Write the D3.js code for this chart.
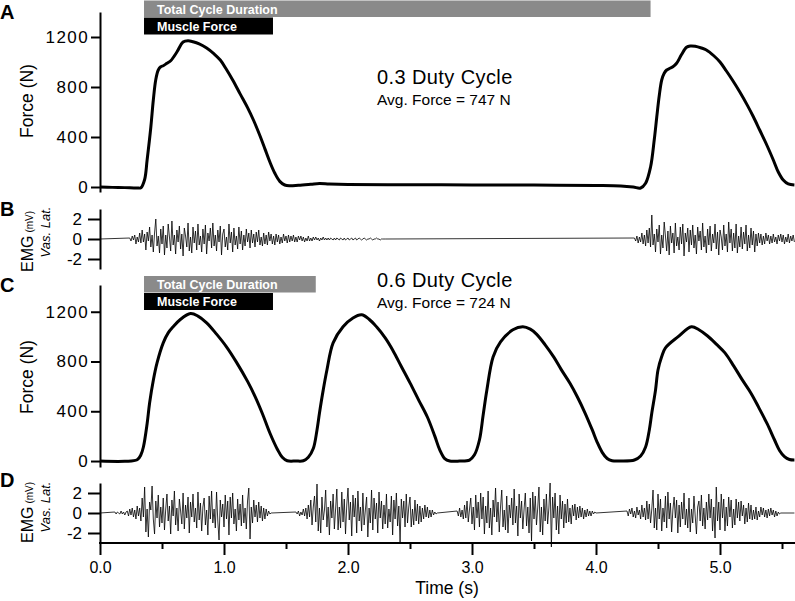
<!DOCTYPE html>
<html><head><meta charset="utf-8">
<script src="https://cdn.jsdelivr.net/npm/d3@7"></script>
<style>
body{margin:0;background:#fff}
text{font-family:"Liberation Sans",Arial,Helvetica,sans-serif;fill:#000}
</style>
</head><body>
<svg id="chart" width="795" height="601"></svg>
<script>
// ---------- data ----------
const xTicks = [0, 1, 2, 3, 4, 5];
const xMinorTicks = [0.5, 1.5, 2.5, 3.5, 4.5, 5.5];
const forceTicks = [0, 400, 800, 1200];
const emgTicks = [-2, 0, 2];

// bars (s)
const muscleForceBar = [0.355, 1.395];
const cycleBarA = [0.355, 4.44];
const cycleBarC = [0.355, 1.74];

const titleA = "0.3 Duty Cycle", avgA = "Avg. Force = 747 N";
const titleC = "0.6 Duty Cycle", avgC = "Avg. Force = 724 N";

// Force, 0.3 duty cycle
const forceATime = [0,0.1,0.2,0.3,0.33,0.36,0.38,0.41,0.43,0.45,0.47,0.49,0.51,0.54,0.57,0.62,0.67,0.71,0.75,0.8,0.86,0.92,0.97,1.02,1.07,1.13,1.19,1.24,1.29,1.33,1.37,1.41,1.45,1.49,1.53,1.6,1.7,1.77,1.85,2.0,2.5,3.0,3.5,4.0,4.2,4.3,4.36,4.4,4.44,4.47,4.49,4.51,4.53,4.55,4.57,4.6,4.62,4.65,4.69,4.73,4.76,4.8,4.85,4.89,4.95,5.0,5.05,5.1,5.16,5.22,5.27,5.32,5.38,5.43,5.47,5.51,5.55,5.6];
const forceA = [0,-3,-5,-8,-6,60,216,480,696,860,936,962,970,990,1010,1080,1160,1170,1162,1145,1112,1065,1016,940,856,745,635,530,410,305,200,110,45,16,10,14,22,28,24,20,18,17,16,12,8,0,-8,30,160,380,560,730,856,910,936,952,962,990,1060,1118,1128,1126,1112,1096,1050,1000,930,856,760,655,560,456,330,216,120,56,25,16];

// Force, 0.6 duty cycle
const forceCTime = [0,0.2,0.3,0.33,0.35,0.38,0.4,0.43,0.46,0.51,0.55,0.59,0.65,0.73,0.79,0.86,0.94,1.02,1.1,1.19,1.25,1.31,1.37,1.43,1.47,1.51,1.58,1.64,1.68,1.72,1.75,1.77,1.8,1.83,1.88,1.96,2.04,2.11,2.17,2.23,2.3,2.36,2.43,2.5,2.57,2.64,2.7,2.74,2.78,2.82,2.9,2.98,3.02,3.06,3.09,3.12,3.17,3.23,3.33,3.41,3.47,3.52,3.59,3.66,3.72,3.79,3.85,3.91,3.97,4.01,4.05,4.09,4.13,4.2,4.31,4.36,4.4,4.43,4.45,4.48,4.5,4.53,4.56,4.66,4.77,4.83,4.9,4.97,5.04,5.11,5.18,5.25,5.31,5.38,5.44,5.48,5.52,5.56,5.6];
const forceC = [0,-2,10,50,113,300,467,650,789,950,1030,1079,1140,1185,1165,1111,1020,918,795,640,520,380,225,95,30,2,0,2,30,100,250,386,570,732,950,1079,1150,1175,1140,1079,990,893,760,628,490,354,200,89,20,0,0,8,50,169,370,571,837,958,1055,1079,1060,1020,934,835,735,625,515,390,250,150,70,20,2,0,8,40,113,250,386,570,732,840,910,998,1079,1055,1005,940,869,765,652,545,435,300,169,85,35,12,8];

// EMG (mV), sampled every 0.01 s from each burst start
const emgStep = 0.01;
const emgBStarts = [0.24, 4.31];
const emgB1 = [0.1,-0.2,0.3,-0.1,0.4,-0.5,0.2,-0.3,0.6,-0.4,
 0.9,-0.3,0.5,-1.1,0.7,-0.2,1.2,-0.8,0.4,-1.3,
 0.6,2.0,-0.7,0.3,-1.4,1.0,-0.5,1.3,-1.6,0.4,
 -0.9,1.5,0.2,-1.2,1.8,-0.6,0.4,-1.5,0.9,-0.3,
 1.3,-1.0,0.5,-1.7,1.1,0.3,-0.8,1.6,-1.2,0.2,
 -1.4,1.2,-0.4,0.8,-1.1,1.5,-0.6,0.3,-1.3,1.0,
 -0.5,1.4,-1.5,0.6,-0.2,1.1,-0.9,1.6,-0.7,0.4,
 -1.2,0.9,-0.3,1.3,-1.6,0.5,1.0,-0.8,0.2,-1.1,
 1.5,-0.4,0.7,-1.3,1.1,-0.6,0.3,-1.0,1.2,-0.5,
 0.8,-1.1,0.4,-0.7,1.0,-0.3,0.6,-0.9,0.9,-0.4,
 0.5,-0.8,0.7,-0.3,0.9,-0.6,0.2,-0.7,0.6,-0.5,
 0.4,-0.6,0.7,-0.2,0.5,-0.5,0.3,-0.6,0.5,-0.3,
 0.4,-0.5,0.2,-0.4,0.5,-0.2,0.3,-0.4,0.4,-0.3,
 0.3,-0.2,0.4,-0.3,0.2,-0.3,0.3,-0.1,0.3,-0.2,
 0.2,-0.3,0.1,-0.2,0.3,-0.2,0.1,-0.2,0.2,-0.1,
 0.2,-0.1,0.1,-0.2,0.1,-0.1,0.2,-0.1,0.1,-0.1,
 0.1,-0.1,0.1,0,-0.1,0.1,-0.1,0.1,0,-0.1,
 0.1,0,-0.1,0.1,-0.1,0,0.1,-0.1,0,0.1,
 -0.1,0,0.1,-0.1,0,0.1,0,-0.1,0,0.1,
 0,-0.1,0,0,0.1,0,-0.1,0,0,0.1,
 0,0,-0.1,0,0,0,0];
const emgB2 = [0.1,-0.2,0.3,-0.4,0.2,-0.3,0.6,-0.5,0.4,-0.7,
 0.9,-0.4,1.1,-0.8,2.4,-0.6,0.5,-1.3,1.0,-0.3,
 1.4,-1.5,0.4,-0.9,1.7,0.3,-1.2,0.8,-1.6,1.3,
 -0.4,0.6,-1.4,1.6,-0.7,0.2,-1.1,1.2,-0.5,1.5,
 -1.7,0.6,-0.3,1.1,-1.3,0.9,-0.6,1.4,-0.9,0.4,
 -1.5,1.2,-0.2,0.8,-1.1,1.6,-0.8,0.3,-1.4,1.0,
 -0.6,1.3,-1.2,0.5,-0.4,1.5,-1.0,0.7,-1.6,0.9,
 0.2,-1.1,1.4,-0.7,0.5,-1.3,1.7,-0.4,1.0,-1.2,
 0.6,-0.9,1.5,-1.4,0.3,-0.8,1.2,-1.0,0.7,-0.5,
 1.4,-1.2,0.4,-0.9,1.1,-0.6,0.8,-1.3,0.5,-0.7,
 0.6,-0.4,0.5,-0.6,0.3,-0.5,0.6,-0.2,0.4,-0.5,
 0.3,-0.4,0.5,-0.3,0.2,-0.5,0.4,-0.2,0.5,-0.3,
 0.4,-0.5,0.2,-0.3,0.5,-0.4,0.3,-0.2,0.4,-0.3];

const emgDStarts = [0.12, 1.58, 2.88, 4.25];
const emgD1 = [0.1,-0.1,0.1,0,-0.1,0.2,-0.1,0.1,-0.2,0.1,
 0.2,-0.3,0.4,-0.2,0.5,-0.4,0.3,-0.6,0.7,-0.3,
 0.5,-0.8,1.5,-0.4,2.6,-1.9,0.4,-2.4,1.1,0.3,
 2.7,-0.6,-2.1,1.2,-0.5,1.8,-1.4,0.6,-1.0,1.5,
 -1.7,0.4,1.9,-0.8,0.7,-2.1,1.3,-0.3,2.2,-1.2,
 0.5,-1.8,1.4,0.2,-1.1,2.0,-1.6,0.8,-0.5,1.6,
 -2.0,1.1,-0.4,1.9,-0.9,0.5,-1.5,2.1,-0.7,1.0,
 -1.8,0.6,1.5,-1.2,0.3,-2.2,1.7,-0.6,2.2,-1.0,
 0.4,-1.5,2.1,-0.8,-2.7,1.3,-0.4,0.9,-1.4,1.8,
 -0.6,1.2,-2.2,1.6,-0.5,2.0,-1.1,0.4,-1.8,1.4,
 -0.7,0.9,-1.3,1.8,-1.0,0.5,-1.6,1.2,2.5,-2.6,
 0.6,-1.0,1.3,-0.4,0.8,-0.9,1.1,-0.5,0.7,-0.8,
 0.5,-0.6,0.4,-0.3,0.2,-0.1,0];
const emgD2 = [0.1,-0.1,0.2,-0.3,0.1,-0.2,0.4,-0.3,0.5,-0.6,
 0.8,-0.4,1.3,-1.2,0.6,1.7,-0.9,2.9,-1.8,0.5,
 -2.0,1.6,-0.7,0.3,2.3,-1.4,0.6,-2.2,1.2,-0.5,
 1.9,-1.6,0.4,2.4,-1.7,0.6,-1.5,2.1,-0.9,1.4,
 -2.1,0.8,2.5,-0.7,1.1,-2.3,1.8,-0.4,1.5,-2.0,
 2.2,-0.8,0.6,-1.8,2.0,-1.2,0.3,1.6,-2.4,0.5,
 -1.0,2.3,-1.7,1.5,-0.6,1.0,-2.0,2.1,-0.5,1.2,
 -1.6,0.8,-1.1,1.9,-1.5,0.4,-0.9,1.7,-2.2,1.3,
 -0.6,2.0,-1.3,0.7,-2.9,1.4,-0.5,1.2,-1.4,1.9,
 -1.0,0.6,1.6,-1.4,0.4,-1.2,1.3,-0.8,0.9,-1.1,
 0.7,-0.9,0.5,-0.6,0.8,-0.4,0.6,-0.5,0.3,-0.4,
 0.3,-0.2,0.1,-0.1,0];
const emgD3 = [0.2,-0.3,0.5,-0.4,0.3,-0.6,0.8,-0.5,1.2,-0.9,
 0.4,1.5,-1.1,0.6,-1.7,1.8,-0.5,1.1,-1.4,2.0,
 -0.6,1.6,-2.1,0.7,-1.0,2.2,-1.5,0.5,-2.2,1.3,
 -0.4,2.5,-0.9,1.1,-1.9,0.6,2.3,-1.4,0.3,-1.7,
 1.7,-2.0,0.8,-0.5,1.5,-1.2,2.4,-1.0,0.7,-2.3,
 1.9,-0.5,1.2,-1.6,0.4,2.0,-1.3,0.6,-2.0,1.5,
 -2.8,2.1,-0.6,1.7,-1.2,0.5,2.6,-1.9,0.6,-2.2,
 1.4,-0.8,1.9,-1.1,0.5,3.0,-3.4,1.6,-0.5,2.0,
 -1.7,0.7,-2.1,1.8,-0.6,1.2,-1.5,0.9,-1.0,1.4,
 -0.9,0.5,-1.1,0.8,-0.3,0.9,-0.7,0.6,-0.5,0.7,
 -0.4,0.5,-0.6,0.3,-0.4,0.4,-0.3,0.2,-0.3,0.2,
 -0.1,0.1,0];
const emgD4 = [0.2,-0.3,0.4,-0.1,0.5,-0.4,0.2,-0.5,0.6,-0.2,
 0.3,-0.6,0.8,-0.4,0.5,-0.7,1.2,-0.6,0.9,-1.0,
 0.4,2.3,-1.5,0.5,-1.7,1.9,-0.6,1.4,-1.8,0.5,
 -0.9,1.7,-1.5,2.1,-0.6,1.0,-1.9,0.3,1.6,-0.5,
 1.3,-2.0,0.8,-1.4,1.1,-0.6,2.0,-1.2,0.4,-1.5,
 1.5,-1.9,0.4,-1.0,1.7,-0.3,-2.1,0.6,1.2,-0.8,
 1.8,-1.3,0.5,-1.6,1.1,-0.7,1.9,-0.5,1.4,-1.8,
 0.6,-2.5,2.6,-0.8,1.1,-1.7,1.9,-0.5,1.4,-1.8,
 0.6,-1.3,1.6,-0.4,1.3,-1.5,0.4,-1.2,1.4,-0.5,
 1.1,-0.8,1.2,-0.3,0.8,-1.1,0.5,-0.9,1.0,-0.6,
 0.8,-0.7,0.3,-0.6,0.6,-0.7,0.2,-0.4,0.6,-0.2,
 0.5,-0.4,0.3,-0.5,0.4,-0.3,0.5,-0.2,0.3,-0.4,
 0.2,-0.3,0.1,-0.1,0];

// ---------- drawing ----------
const svg = d3.select("#chart");
const tMax = 5.6;
const x = d3.scaleLinear().domain([0, tMax]).range([100, 794.4]);

const yA = d3.scaleLinear().domain([-40, 1400]).range([192, 12]);
const yB = d3.scaleLinear().domain([-3, 3]).range([269, 209]);
const yC = d3.scaleLinear().domain([-48, 1415]).range([467, 285]);
const yD = d3.scaleLinear().domain([-3, 3]).range([543, 483]);

function styleAxis(g, sw) {
  g.selectAll("path.domain").attr("stroke", "#000").attr("stroke-width", sw);
  g.selectAll(".tick line").attr("stroke", "#000").attr("stroke-width", sw);
  g.selectAll(".tick text").attr("fill", "#000");
}

function forceAxis(y) {
  const g = svg.append("g").attr("transform", "translate(100,0)")
    .call(d3.axisLeft(y).tickValues(forceTicks).tickSize(9).tickPadding(2).tickSizeOuter(0).tickFormat(d3.format("d")));
  styleAxis(g, 2);
  g.selectAll(".tick text").attr("font-size", 17).attr("letter-spacing", "1.4px")
    .attr("font-family", '"Liberation Sans",Arial,sans-serif');
}
function emgAxis(y) {
  const g = svg.append("g").attr("transform", "translate(100,0)")
    .call(d3.axisLeft(y).tickValues(emgTicks).tickSize(12).tickPadding(6).tickSizeOuter(0).tickFormat(d3.format("d")));
  styleAxis(g, 2);
  g.selectAll(".tick text").attr("font-size", 17)
    .attr("font-family", '"Liberation Sans",Arial,sans-serif')
    .text(d => d < 0 ? "-" + Math.abs(d) : d);
}

forceAxis(yA); emgAxis(yB); forceAxis(yC); emgAxis(yD);

// x axis (bottom of D)
const gx = svg.append("g").attr("transform", "translate(0,543)")
  .call(d3.axisBottom(x).tickValues(xTicks).tickSize(12).tickPadding(7).tickSizeOuter(0).tickFormat(d3.format(".1f")));
styleAxis(gx, 2);
gx.select("path.domain").attr("d", `M${x(0)-1},0H795`);
gx.selectAll(".tick text").attr("font-size", 16).attr("font-family", '"Liberation Sans",Arial,sans-serif');
const gxm = svg.append("g").attr("transform", "translate(0,543)")
  .call(d3.axisBottom(x).tickValues(xMinorTicks).tickSize(6).tickFormat(""));
gxm.select("path.domain").remove();
styleAxis(gxm, 2);

svg.append("text").attr("x", 447).attr("y", 594).attr("text-anchor", "middle")
  .attr("font-size", 17.5).text("Time (s)");

// force lines
function forceLine(times, vals, y) {
  const pts = times.map((t, i) => [t, vals[i]]);
  svg.append("path").datum(pts)
    .attr("fill", "none").attr("stroke", "#000").attr("stroke-width", 3)
    .attr("stroke-linejoin", "round")
    .attr("d", d3.line().x(d => x(d[0])).y(d => y(d[1])).curve(d3.curveCatmullRom.alpha(0.5)));
}
forceLine(forceATime, forceA, yA);
forceLine(forceCTime, forceC, yC);

// EMG lines
function emgLine(starts, bursts, y) {
  let pts = [[0, 0]];
  bursts.forEach((b, k) => {
    b.forEach((v, i) => pts.push([starts[k] + i * emgStep, v]));
  });
  const last = pts[pts.length - 1][0];
  if (last < tMax - 1e-6) pts.push([tMax, 0]);
  svg.append("path").datum(pts)
    .attr("fill", "none").attr("stroke", "#000").attr("stroke-width", 0.8)
    .attr("d", d3.line().x(d => x(d[0])).y(d => y(d[1])));
}
emgLine(emgBStarts, [emgB1, emgB2], yB);
emgLine(emgDStarts, [emgD1, emgD2, emgD3, emgD4], yD);

// bars
function bars(cycle, yTop) {
  svg.append("rect").attr("x", x(cycle[0])).attr("y", yTop)
    .attr("width", x(cycle[1]) - x(cycle[0])).attr("height", 16.5).attr("fill", "#8a8a8a");
  svg.append("rect").attr("x", x(muscleForceBar[0])).attr("y", yTop + 17)
    .attr("width", x(muscleForceBar[1]) - x(muscleForceBar[0])).attr("height", 17).attr("fill", "#000");
  svg.append("text").attr("x", x(cycle[0]) + 13).attr("y", yTop + 13)
    .attr("font-size", 12.5).attr("font-weight", "bold").style("fill", "#fff").text("Total Cycle Duration");
  svg.append("text").attr("x", x(muscleForceBar[0]) + 13).attr("y", yTop + 30)
    .attr("font-size", 12.5).attr("font-weight", "bold").style("fill", "#fff").text("Muscle Force");
}
bars(cycleBarA, 0.5);
bars(cycleBarC, 276);

// annotations
function annot(title, avg, yBase) {
  svg.append("text").attr("x", 377).attr("y", yBase).attr("font-size", 20)
    .attr("letter-spacing", "0.4px").text(title);
  svg.append("text").attr("x", 377).attr("y", yBase + 21).attr("font-size", 15.5).text(avg);
}
annot(titleA, avgA, 84);
annot(titleC, avgC, 287);

// y titles
function forceTitle(cy) {
  svg.append("text").attr("transform", `translate(33,${cy}) rotate(-90)`)
    .attr("text-anchor", "middle").attr("font-size", 17.5).text("Force (N)");
}
forceTitle(101); forceTitle(377);

function emgTitle(yBottom, cyVas) {
  const t = svg.append("text").attr("transform", `translate(33,${yBottom}) rotate(-90)`)
    .attr("font-size", 16);
  t.append("tspan").text("EMG");
  t.append("tspan").attr("font-size", 10).attr("dx", 3).text("(mV)");
  svg.append("text").attr("transform", `translate(50,${cyVas}) rotate(-90)`)
    .attr("text-anchor", "middle").attr("font-size", 13).attr("font-style", "italic").text("Vas. Lat.");
}
emgTitle(272, 232);
emgTitle(543, 507);

// panel letters
[["A", 19], ["B", 216], ["C", 292], ["D", 487]].forEach(([l, yy]) => {
  svg.append("text").attr("x", 0).attr("y", yy).attr("font-size", 20)
    .attr("font-weight", "bold").text(l);
});
</script>
</body></html>
